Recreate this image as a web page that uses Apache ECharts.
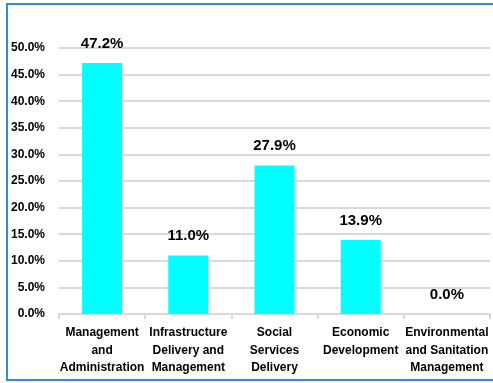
<!DOCTYPE html>
<html>
<head>
<meta charset="utf-8">
<script src="https://cdn.jsdelivr.net/npm/echarts@6/dist/echarts.min.js"></script>
<style>
  html, body { margin: 0; padding: 0; background: #fff; }
  #chart { width: 493px; height: 383px; }
</style>
</head>
<body>
<div id="chart"></div>
<script>
// Share of spending by functional area (%)
const categories = [
  'Management\nand\nAdministration',
  'Infrastructure\nDelivery and\nManagement',
  'Social\nServices\nDelivery',
  'Economic\nDevelopment',
  'Environmental\nand Sanitation\nManagement'
];
const shares = [47.2, 11.0, 27.9, 13.9, 0.0];
const yTicks = { min: 0, max: 50, step: 5 };

const chart = echarts.init(document.getElementById('chart'), null, { renderer: 'canvas' });
const font = '"Liberation Sans", Arial, sans-serif';

chart.setOption({
  animation: false,
  graphic: [{
    type: 'rect',
    shape: { x: 7, y: 4, width: 500, height: 376 },
    style: { fill: 'none', stroke: '#2f8fd8', lineWidth: 2 },
    silent: true
  }],
  grid: { left: 59, right: 3, top: 48, bottom: 69, containLabel: false },
  xAxis: {
    type: 'category',
    data: categories,
    axisLine: { show: true, lineStyle: { color: '#d9d9d9', width: 2 } },
    axisTick: { show: true, length: 5, lineStyle: { color: '#d9d9d9', width: 2 } },
    axisLabel: {
      interval: 0,
      margin: 10,
      color: '#000',
      fontFamily: font,
      fontWeight: 'bold',
      fontSize: 12,
      lineHeight: 17.5
    }
  },
  yAxis: {
    type: 'value',
    min: yTicks.min,
    max: yTicks.max,
    interval: yTicks.step,
    axisLine: { show: false },
    axisTick: { show: false },
    splitLine: { lineStyle: { color: '#d9d9d9', width: 2 } },
    axisLabel: {
      margin: 14,
      color: '#000',
      fontFamily: font,
      fontWeight: 'bold',
      fontSize: 12,
      formatter: v => v.toFixed(1) + '%'
    }
  },
  series: [{
    type: 'bar',
    data: shares,
    barWidth: 40,
    itemStyle: { color: '#00ffff' },
    label: {
      show: true,
      position: 'top',
      distance: 12,
      color: '#000',
      fontFamily: font,
      fontWeight: 'bold',
      fontSize: 15,
      formatter: p => p.value.toFixed(1) + '%'
    }
  }]
});
</script>
</body>
</html>
